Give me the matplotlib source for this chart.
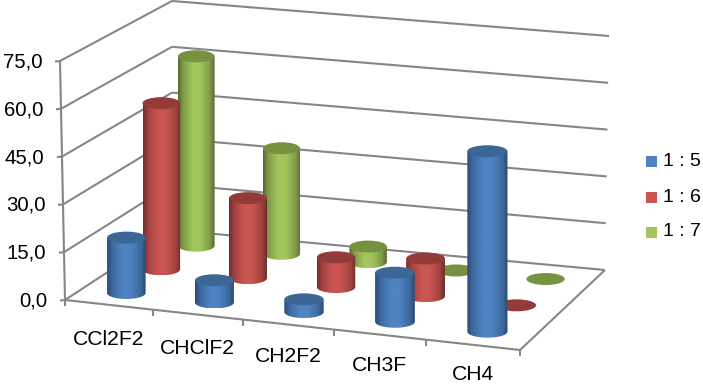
import numpy as np
import matplotlib
matplotlib.use("Agg")
import matplotlib.pyplot as plt
from matplotlib.colors import LinearSegmentedColormap, to_rgb
from matplotlib.patches import Ellipse, PathPatch, Rectangle
from matplotlib.path import Path

categories = ["CCl2F2", "CHClF2", "CH2F2", "CH3F", "CH4"]
series_names = ["1 : 5", "1 : 6", "1 : 7"]
values_1_5 = [17.5, 7.0, 4.0, 15.5, 57.0]
values_1_6 = [53.0, 25.5, 9.5, 12.0, 0.0]
values_1_7 = [61.0, 34.0, 5.0, 0.0, 0.0]
value_ticks = [0, 15, 30, 45, 60, 75]

plt.rcParams["font.family"] = ["Liberation Sans", "DejaVu Sans"]
FS = 15.2
GRID = "#868686"
# side edge, side centre, top face
STYLES = [("#2b4a73", "#4f83c2", "#3b6695"),
          ("#6f2c2a", "#cb5552", "#933b39"),
          ("#556a2e", "#a3c55e", "#77923f")]

# projected box corners (pixels): floor and ceiling
F_FL, F_FR, F_BR, F_BL = map(np.array, [(65., 300.), (520., 350.), (605., 270.), (172., 230.)])
C_FL, C_BL, C_BR = map(np.array, [(60., 61.), (172., 1.), (609., 36.)])
VMAX = 75.0
PERSP = 0.04


def warp(u):
    return u - PERSP * u * (1 - u)


def floor(u, v):
    u = warp(u)
    front = F_FL + (F_FR - F_FL) * u
    back = F_BL + (F_BR - F_BL) * u
    return front + (back - front) * v


def wall_left(v_frac, val):
    b = F_FL + (F_BL - F_FL) * v_frac
    t = C_FL + (C_BL - C_FL) * v_frac
    return b + (t - b) * val / VMAX


def wall_back(u, val):
    b = F_BL + (F_BR - F_BL) * u
    t = C_BL + (C_BR - C_BL) * u
    return b + (t - b) * val / VMAX


fig = plt.figure(figsize=(7.03, 3.85), dpi=100)
ax = fig.add_axes([0, 0, 1, 1])
ax.axis("off")

lw = 1.5
def seg(a, b, z=1):
    ax.plot([a[0], b[0]], [a[1], b[1]], color=GRID, lw=lw, zorder=z, solid_capstyle="butt")

# walls and gridlines
for val in value_ticks:
    a, b, c = wall_left(0, val), wall_left(1, val), wall_back(1, val)
    seg(a, b)
    seg(b, c)
    seg(a, a + np.array([-5, 0.5]))
    ax.text(a[0] - 17.5, a[1] + 1, f"{val:.1f}".replace(".", ","), ha="right", va="center",
            fontsize=FS - 0.5, color="black")
seg(wall_left(0, 0), wall_left(0, VMAX))
seg(F_FL, F_FR)
seg(F_FR, F_BR)

# category ticks and labels
for i in range(len(categories) + 1):
    p = floor(i / len(categories), 0)
    seg(p, p + np.array([0, 6]))
for i, name in enumerate(categories):
    u = (i + 0.5) / len(categories)
    p = floor(u, 0)
    ax.text(p[0], p[1] + 35.5 - 6 * u, name, ha="center", va="center", fontsize=FS, color="black")


def mix(a, b, t):
    return tuple(np.array(to_rgb(a)) * (1 - t) + np.array(to_rgb(b)) * t)


# cylinders, back row first
all_series = [values_1_5, values_1_6, values_1_7]
grad = np.linspace(0, 1, 256)[None, :]
z = 5
for s in [2, 1, 0]:
    edge, mid, top = STYLES[s]
    stops = [(0, edge), (.14, mix(edge, mid, .55)), (.4, mid), (.6, mid), (.86, mix(edge, mid, .55)), (1, edge)]
    cmap = LinearSegmentedColormap.from_list("c", stops, N=256)
    v = (s + 0.5) / 3
    for i, val in enumerate(all_series[s]):
        u = (i + 0.5) / len(categories)
        cx, by = floor(u, v)
        rx = 19.4 - 1.4 * v + 1.0 * u
        ry = 6.0
        ty = by - val * (3.18 - 0.09 * v)
        z += 1
        if val > 0:
            th = np.linspace(np.pi, 0, 60)
            xs = np.r_[cx - rx, cx + rx * np.cos(th), cx + rx, cx - rx]
            ys = np.r_[ty, by + ry * np.sin(th), ty, ty]
            patch = PathPatch(Path(np.c_[xs, ys]), fc="none", ec="none", zorder=z)
            ax.add_patch(patch)
            im = ax.imshow(grad, cmap=cmap, extent=[cx - rx, cx + rx, by + ry, ty],
                           aspect="auto", zorder=z, interpolation="bilinear")
            im.set_clip_path(patch)
            z += 1
        ax.add_patch(Ellipse((cx, ty), 2 * rx, 2 * ry, fc=top, ec="none", zorder=z))

# legend
for name, (edge, mid, top), y in zip(series_names, STYLES, [161, 197, 232]):
    ax.add_patch(Rectangle((646, y - 5.5), 11, 11, fc=mid, ec="none", zorder=2))
    ax.text(663, y, name, ha="left", va="center", fontsize=14, color="black")

ax.set_xlim(0, 703)
ax.set_ylim(385, 0)
fig.savefig("out.png", dpi=100, facecolor="white")
